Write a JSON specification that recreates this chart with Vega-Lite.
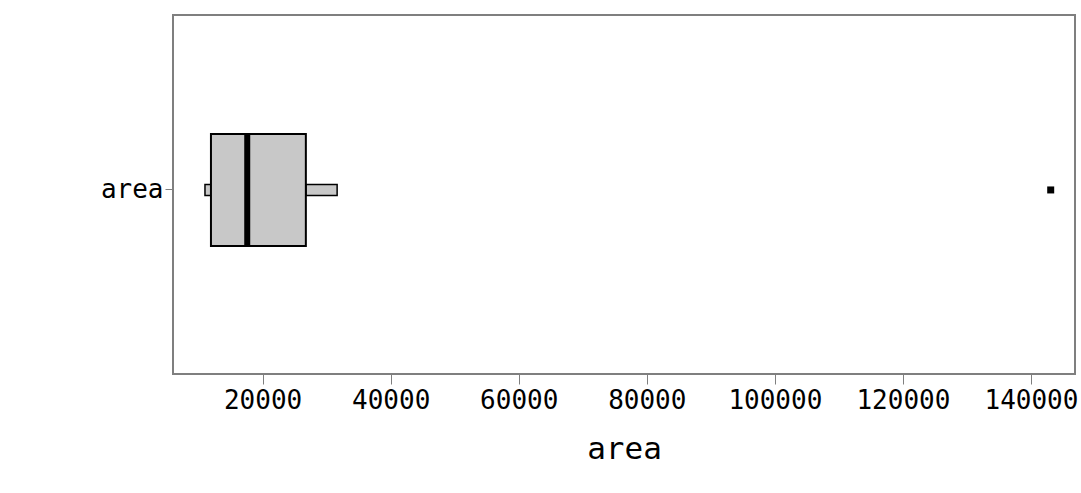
{
  "$schema": "https://vega.github.io/schema/vega-lite/v6.json",
  "autosize": {"type": "none"},
  "width": 902,
  "height": 359,
  "padding": {"left": 173, "top": 15, "right": 6, "bottom": 119},
  "background": "white",
  "config": {
    "view": {"stroke": "#7f7f7f", "strokeWidth": 2},
    "font": "DejaVu Sans Mono",
    "axis": {"labelFont": "DejaVu Sans Mono", "titleFont": "DejaVu Sans Mono", "labelColor": "black", "titleColor": "black", "tickColor": "#7f7f7f", "grid": false, "domain": false}
  },
  "datasets": {
    "stats": [{"variable": "area", "lower": 11000, "q1": 11934, "median": 17600, "q3": 26755, "upper": 31640}],
    "outliers": [{"variable": "area", "value": 143085}]
  },
  "encoding": {
    "y": {
      "field": "variable", "type": "nominal",
      "scale": {"paddingInner": 0, "paddingOuter": 1, "align": 0.481},
      "axis": {"title": null, "labelFontSize": 26, "tickSize": 8, "labelPadding": 2}
    }
  },
  "layer": [
    {
      "data": {"name": "stats"},
      "mark": {"type": "bar", "size": 11, "fill": "#c8c8c8", "stroke": "black", "strokeWidth": 1.5},
      "encoding": {
        "x": {"field": "lower", "type": "quantitative",
          "scale": {"domain": [6006, 146880], "nice": false, "zero": false},
          "axis": {"values": [20000, 40000, 60000, 80000, 100000, 120000, 140000], "format": "d", "labelFontSize": 26, "tickSize": 10, "labelPadding": 3, "title": "area", "titleFontSize": 31, "titleFontWeight": "normal", "titlePadding": 21}},
        "x2": {"field": "q1"}
      }
    },
    {
      "data": {"name": "stats"},
      "mark": {"type": "bar", "size": 11, "fill": "#c8c8c8", "stroke": "black", "strokeWidth": 1.5},
      "encoding": {
        "x": {"field": "q3", "type": "quantitative"},
        "x2": {"field": "upper"}
      }
    },
    {
      "data": {"name": "stats"},
      "mark": {"type": "bar", "size": 112, "fill": "#c8c8c8", "stroke": "black", "strokeWidth": 2},
      "encoding": {
        "x": {"field": "q1", "type": "quantitative"},
        "x2": {"field": "q3"}
      }
    },
    {
      "data": {"name": "stats"},
      "mark": {"type": "tick", "size": 112, "thickness": 6, "color": "black", "opacity": 1},
      "encoding": {
        "x": {"field": "median", "type": "quantitative"}
      }
    },
    {
      "data": {"name": "outliers"},
      "mark": {"type": "point", "shape": "square", "size": 49, "filled": true, "color": "black", "opacity": 1},
      "encoding": {
        "x": {"field": "value", "type": "quantitative"}
      }
    }
  ]
}
